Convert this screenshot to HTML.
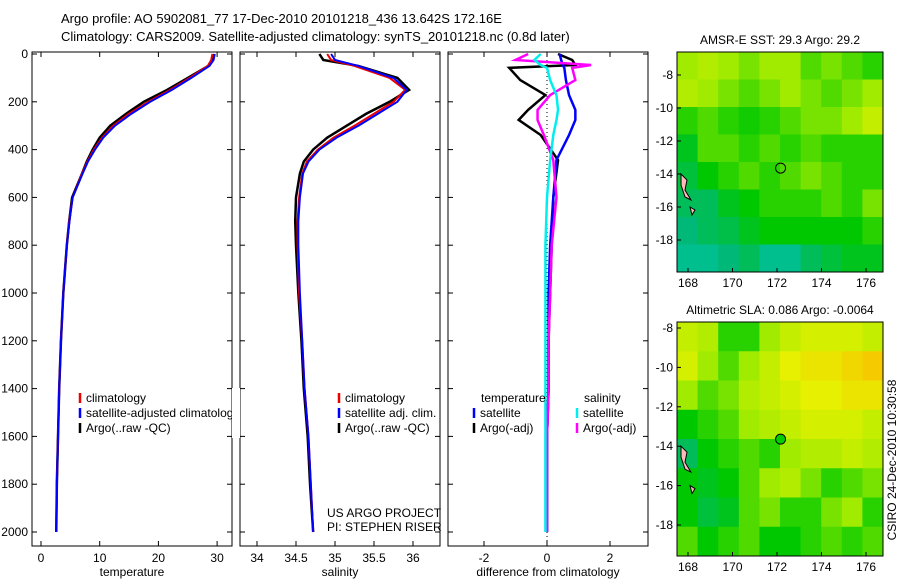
<!DOCTYPE html>
<html><head><meta charset="utf-8">
<style>
body{margin:0;background:#fff;width:900px;height:580px;overflow:hidden;font-family:"Liberation Sans",sans-serif}
svg text{font-family:"Liberation Sans",sans-serif;font-size:12px;fill:#000}
</style></head>
<body>
<svg id="chart" width="900" height="580" xmlns="http://www.w3.org/2000/svg">
<text x="61" y="23" style="font-size:13px">Argo profile: AO 5902081_77 17-Dec-2010 20101218_436 13.642S 172.16E</text>
<text x="61" y="41" style="font-size:13px">Climatology: CARS2009. Satellite-adjusted climatology: synTS_20101218.nc (0.8d later)</text>
<g id="g"></g>
</svg>
<script>
// ---- data ----
const depths=[0,25,50,100,150,200,250,300,350,400,450,500,600,700,800,1000,1200,1400,1600,1800,2000];
const tempArgo=[29.5,29.3,28.5,25,21.5,17.5,14.5,11.8,10,8.8,7.8,7,5.3,4.8,4.4,3.8,3.4,3.1,2.9,2.7,2.6];
const tempClim=[29.2,29.0,28.4,25.3,22.0,18.3,15.0,12.3,10.4,9.0,7.9,7.0,5.4,4.8,4.4,3.8,3.4,3.1,2.9,2.7,2.6];
const tempSat=[29.6,29.4,28.7,25.6,22.3,18.6,15.4,12.6,10.6,9.2,8.0,7.1,5.4,4.85,4.4,3.8,3.4,3.1,2.9,2.7,2.6];
const salArgo=[34.8,34.85,35.3,35.8,35.95,35.7,35.4,35.15,34.9,34.72,34.6,34.55,34.5,34.49,34.5,34.53,34.57,34.6,34.65,34.68,34.72];
const salClim=[34.9,34.95,35.25,35.7,35.9,35.75,35.5,35.25,34.98,34.78,34.64,34.58,34.54,34.52,34.52,34.54,34.58,34.61,34.66,34.69,34.72];
const salSat=[34.95,35.0,35.3,35.75,35.92,35.8,35.55,35.3,35.02,34.8,34.66,34.59,34.55,34.53,34.53,34.55,34.58,34.61,34.66,34.69,34.72];
const dDepths=[0,25,46,58,109,172,234,276,339,444,600,800,1000,1200,1400,1600,1800,2000];
const dTempArgo=[0.35,0.8,0.9,-1.2,-0.85,-0.05,-0.6,-0.9,-0.2,0.35,0.2,0.15,0.1,0.05,0.05,0.0,0.0,0.0];
const dTempSat=[0.4,0.45,0.5,0.55,0.6,0.7,0.9,0.9,0.7,0.3,0.2,0.1,0.05,0.05,0.05,0.0,0.0,0.0];
const dSalArgo=[-0.6,-1.0,1.4,0.8,0.9,0.1,-0.3,-0.3,-0.1,0.2,0.3,0.15,0.1,0.05,0.05,0.0,0.0,0.0];
const dSalSat=[-0.2,-0.4,-0.2,0.0,0.1,0.3,0.35,0.3,0.2,0.1,0.0,-0.05,-0.05,-0.05,-0.05,-0.05,-0.05,-0.05];
const yTicks=[0,200,400,600,800,1000,1200,1400,1600,1800,2000];
const sstGrid=[
[.6,.65,.6,.55,.6,.6,.5,.55,.5,.45],
[.65,.6,.55,.5,.55,.6,.55,.5,.55,.6],
[.45,.5,.45,.42,.45,.5,.55,.55,.6,.7],
[.35,.5,.5,.45,.5,.45,.5,.45,.45,.45],
[.3,.4,.45,.5,.45,.5,.55,.5,.45,.45],
[.25,.25,.35,.4,.45,.45,.45,.5,.45,.55],
[.2,.25,.28,.35,.4,.4,.4,.4,.4,.45],
[.15,.15,.2,.25,.15,.15,.25,.3,.35,.35]];
const slaGrid=[
[.7,.65,.45,.45,.6,.7,.75,.75,.75,.7],
[.75,.6,.5,.6,.7,.8,.85,.85,.9,.95],
[.6,.5,.55,.65,.7,.75,.8,.8,.85,.85],
[.4,.45,.5,.6,.65,.7,.75,.75,.75,.7],
[.25,.4,.45,.5,.45,.6,.65,.65,.7,.65],
[.4,.35,.4,.5,.6,.65,.55,.45,.5,.55],
[.4,.3,.35,.5,.55,.45,.45,.55,.6,.45],
[.5,.4,.45,.5,.4,.4,.45,.5,.45,.5]];
// ---- drawing ----
const NS="http://www.w3.org/2000/svg",g=document.getElementById('g');
function el(t,a,p){const e=document.createElementNS(NS,t);for(const k in a)e.setAttribute(k,a[k]);(p||g).appendChild(e);return e;}
function txt(x,y,s,anchor){const e=el('text',{x:x,y:y,'text-anchor':anchor||'start'});e.textContent=s;return e;}
const Y=d=>54+d*0.239;
function panel(x0,x1,name,xScale,xt,xl,label){
  const r=el('rect',{x:x0,y:52,width:x1-x0,height:494,fill:'none',stroke:'#000'});
  
  xt.forEach((v,i)=>{const x=xScale(v);el('line',{x1:x,x2:x,y1:546,y2:541,stroke:'#000'});el('line',{x1:x,x2:x,y1:52,y2:57,stroke:'#000'});
    const t=txt(x,562,xl[i],'middle');});
  yTicks.forEach(d=>{el('line',{x1:x0,x2:x0+5,y1:Y(d),y2:Y(d),stroke:'#000'});el('line',{x1:x1,x2:x1-5,y1:Y(d),y2:Y(d),stroke:'#000'});});
  const l=txt((x0+x1)/2,576,label,'middle');
}
function line(vals,ds,xs,col,w,name){
  const p=el('polyline',{points:vals.map((v,i)=>xs(v)+','+Y(ds[i])).join(' '),fill:'none',stroke:col,'stroke-width':w});
  
}
yTicks.forEach(d=>{const t=txt(28,Y(d)+4,String(d),'end');});
const xT=v=>41+v*5.87, xS=v=>257+(v-34)*78, xD=v=>547+v*31.5;
panel(32,232,'temperature-panel',xT,[0,10,20,30],['0','10','20','30'],'temperature');
line(tempArgo,depths,xT,'#000',2.5,'temp-argo-line');line(tempClim,depths,xT,'#e00',2,'temp-clim-line');line(tempSat,depths,xT,'#00f',2,'temp-sat-line');
panel(240,440,'salinity-panel',xS,[34,34.5,35,35.5,36],['34','34.5','35','35.5','36'],'salinity');
line(salArgo,depths,xS,'#000',2.5,'sal-argo-line');line(salClim,depths,xS,'#e00',2,'sal-clim-line');line(salSat,depths,xS,'#00f',2,'sal-sat-line');
panel(448,648,'difference-panel',xD,[-2,0,2],['-2','0','2'],'difference from climatology');
el('line',{x1:xD(0),x2:xD(0),y1:52,y2:546,stroke:'#000','stroke-dasharray':'1,3'});
line(dTempArgo,dDepths,xD,'#000',2.5,'diff-temp-argo');line(dTempSat,dDepths,xD,'#00f',2.5,'diff-temp-sat');
line(dSalArgo,dDepths,xD,'#f0f',2.5,'diff-sal-argo');line(dSalSat,dDepths,xD,'#0ee',2.5,'diff-sal-sat');
function legend(x,y,items,name){items.forEach((it,i)=>{const yy=y+i*15;el('line',{x1:x,x2:x,y1:yy-9,y2:yy+1,stroke:it[1],'stroke-width':2.5});
  const t=txt(x+6,yy,it[0]);});}
legend(80,402,[['climatology','#e00'],['satellite-adjusted climatology','#00f'],['Argo(..raw -QC)','#000']],'temp-legend');
el('rect',{x:232,y:388,width:8,height:50,fill:'#fff'});
legend(339,402,[['climatology','#e00'],['satellite adj. clim.','#00f'],['Argo(..raw -QC)','#000']],'sal-legend');
txt(481,402,'temperature');txt(584,402,'salinity');
legend(474,417,[['satellite','#00f'],['Argo(-adj)','#000']],'diff-temp-legend');
legend(577,417,[['satellite','#0ee'],['Argo(-adj)','#f0f']],'diff-sal-legend');
txt(327,517,'US ARGO PROJECT');txt(327,531,'PI: STEPHEN RISER');
// maps
const stops=[[0,210,210],[0,185,120],[0,200,0],[160,235,0],[230,240,0],[250,190,0]];
function pal(v){v=Math.max(0,Math.min(1,v))*(stops.length-1);const i=Math.min(stops.length-2,Math.floor(v)),f=v-i;
  return 'rgb('+stops[i].map((c,k)=>Math.round(c+(stops[i+1][k]-c)*f)).join(',')+')';}
function map(grid,y0,y1,y8,y18,title,name){
  const x0=677,x1=883,rows=grid.length,cols=grid[0].length,cw=(x1-x0)/cols,ch=(y1-y0)/rows;
  grid.forEach((row,i)=>row.forEach((v,j)=>{const c=el('rect',{x:x0+j*cw,y:y0+i*ch,width:cw+0.5,height:ch+0.5,fill:pal(v)});
    }));
  el('rect',{x:x0,y:y0,width:x1-x0,height:y1-y0,fill:'none',stroke:'#000'});
  const t=txt(780,y0-8,title,'middle');
  [-8,-10,-12,-14,-16,-18].forEach(v=>{const y=y8+(y18-y8)*(-8-v)/10;el('line',{x1:x0,x2:x0+4,y1:y,y2:y,stroke:'#000'});txt(x0-4,y+4,String(v),'end');});
  [168,170,172,174,176].forEach(v=>{const x=688+(v-168)*22.25;el('line',{x1:x,x2:x,y1:y1,y2:y1-4,stroke:'#000'});txt(x,y1+15,String(v),'middle');});
  el('path',{d:`M681 ${y8+(y18-y8)*0.6} l6 6 -2 10 6 10 -6 -3 -4 -12z M690 ${y8+(y18-y8)*0.8} l5 3 -3 5z`,fill:'#fbb',stroke:'#000'});
  const m=el('circle',{cx:688+(172.16-168)*22.25,cy:y8+(y18-y8)*(13.642-8)/10,r:5,fill:'none',stroke:'#000'});
  
  return m;
}
map(sstGrid,52,272,75,240,'AMSR-E SST: 29.3 Argo: 29.2','sst-map');
const m2=map(slaGrid,322,556,328,525,'Altimetric SLA: 0.086 Argo: -0.0064','sla-map');m2.setAttribute('fill','#0c0');
const s=txt(0,0,'CSIRO 24-Dec-2010 10:30:58','middle');s.setAttribute('transform','translate(896,460) rotate(-90)');

</script>
</body></html>
